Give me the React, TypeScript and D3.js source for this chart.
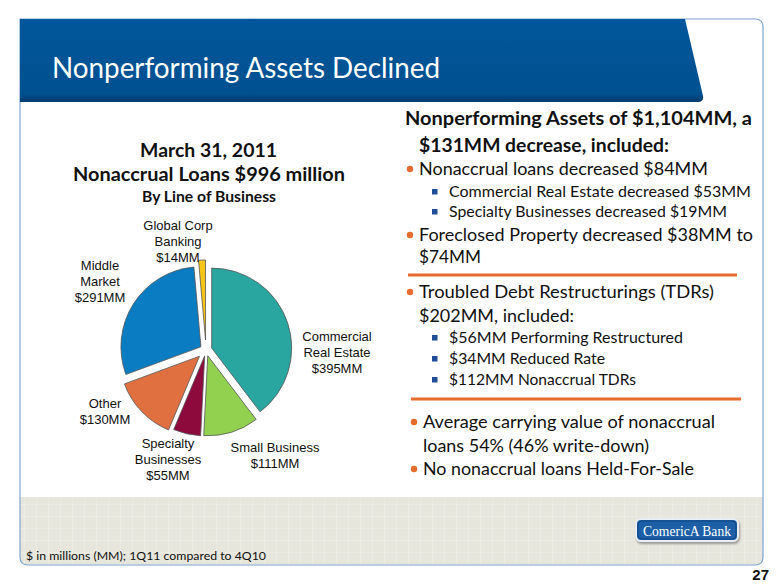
import React from "react";
import * as d3 from "d3";

const categories = ["Commercial Real Estate", "Small Business", "Specialty Businesses", "Other", "Middle Market", "Global Corp Banking"];
const values = [395, 111, 55, 130, 291, 14];
const colors = ["#2aa6a1", "#92d050", "#8c0a3c", "#e07040", "#0a7cc1", "#f5c518"];
const explode = [6, 6, 6, 9, 6, 10];
const labelLines = [
  ["Commercial", "Real Estate", "$395MM"],
  ["Small Business", "$111MM"],
  ["Specialty", "Businesses", "$55MM"],
  ["Other", "$130MM"],
  ["Middle", "Market", "$291MM"],
  ["Global Corp", "Banking", "$14MM"],
];
const labelPos = [
  [337, 341],
  [275, 452],
  [168, 448],
  [105, 408],
  [100, 270],
  [178, 230],
];

const W = 780, H = 585;
const cx = 206, cy = 350, R = 80;

export default function App() {
  const pie = d3.pie<number>().sort(null).startAngle(0).endAngle(2 * Math.PI)(values);
  const arc = d3.arc<d3.PieArcDatum<number>>().innerRadius(0).outerRadius(R);
  const font = "Lato, 'Open Sans', sans-serif";
  const dark = "#111";
  const orange = "#e46c2e";
  const sq = "#1f4e96";

  const bullet = (x: number, y: number) => <circle cx={x} cy={y - 6} r={3.2} fill={orange} />;
  const square = (x: number, y: number) => <rect x={x - 3} y={y - 8} width={5.5} height={5.5} fill={sq} />;

  const hdrPath = `M20,19 L685,19 L703,96 Q704,102 698,102 L20,102 Z`;

  return (
    <svg width={W} height={H} style={{ position: "absolute", left: 0, top: 0, background: "#fff" }}>
      <defs>
        <pattern id="grid" width="12" height="12" patternUnits="userSpaceOnUse">
          <rect width="12" height="12" fill="#e6e6dc" />
          <path d="M12,0 L0,0 0,12" fill="none" stroke="#f1f1ea" strokeWidth="1" />
        </pattern>
        <linearGradient id="hdr" x1="0" y1="0" x2="0" y2="1">
          <stop offset="0" stopColor="#01579b" />
          <stop offset="0.9" stopColor="#00508f" />
          <stop offset="1" stopColor="#003a6e" />
        </linearGradient>
        <filter id="sh" x="-10%" y="-10%" width="130%" height="150%">
          <feDropShadow dx="1" dy="2" stdDeviation="1.2" floodColor="#666" floodOpacity="0.6" />
        </filter>
      </defs>
      {/* frame */}
      <path d="M20,497 L763,497 L763,557 Q763,565 755,565 L28,565 Q20,565 20,557 Z" fill="url(#grid)" />
      <path d="M20,19 L755,19 Q763,19 763,27 L763,557 Q763,565 755,565 L28,565 Q20,565 20,557 Z" fill="none" stroke="#7fa6cf" strokeWidth={1.2} />
      <path d={hdrPath} fill="url(#hdr)" />
      <text x={52} y={78} fill="#fff" fontFamily={font} fontSize={28} textLength={388} lengthAdjust="spacingAndGlyphs">Nonperforming Assets Declined</text>

      {/* pie titles */}
      <g fontFamily={font} fontWeight="bold" fill={dark}>
        <text x={140} y={157} fontSize={19} textLength={137} lengthAdjust="spacingAndGlyphs">March 31, 2011</text>
        <text x={73} y={181} fontSize={19} textLength={272} lengthAdjust="spacingAndGlyphs">Nonaccrual Loans $996 million</text>
        <text x={142} y={202} fontSize={15} textLength={134} lengthAdjust="spacingAndGlyphs">By Line of Business</text>
      </g>

      {/* pie */}
      <g>
        {pie.map((d, i) => {
          const mid = (d.startAngle + d.endAngle) / 2;
          const dx = Math.sin(mid) * explode[i];
          const dy = -Math.cos(mid) * explode[i];
          return (
            <path key={categories[i]} d={arc(d) || ""} transform={`translate(${cx + dx},${cy + dy})`} fill={colors[i]} stroke="#555" strokeWidth={0.8} />
          );
        })}
      </g>
      <g fontFamily="'Liberation Sans', Arial, sans-serif" fontSize={13} fill={dark} textAnchor="middle">
        {labelLines.map((lines, i) => (
          <text key={i} x={labelPos[i][0]} y={labelPos[i][1]}>
            {lines.map((l, j) => (
              <tspan key={j} x={labelPos[i][0]} dy={j === 0 ? 0 : 16}>{l}</tspan>
            ))}
          </text>
        ))}
      </g>

      {/* right text */}
      <g fontFamily={font} fill={dark}>
        <text x={405} y={125} fontSize={19} fontWeight="bold" textLength={347} lengthAdjust="spacingAndGlyphs">Nonperforming Assets of $1,104MM, a</text>
        <text x={419} y={152} fontSize={19} fontWeight="bold" textLength={250} lengthAdjust="spacingAndGlyphs">$131MM decrease, included:</text>
        {bullet(410, 175)}
        <text x={419} y={175} fontSize={18} textLength={289} lengthAdjust="spacingAndGlyphs">Nonaccrual loans decreased $84MM</text>
        {square(435, 197)}
        <text x={449} y={197} fontSize={15} textLength={302} lengthAdjust="spacingAndGlyphs">Commercial Real Estate decreased $53MM</text>
        {square(435, 217)}
        <text x={449} y={217} fontSize={15} textLength={278} lengthAdjust="spacingAndGlyphs">Specialty Businesses decreased $19MM</text>
        {bullet(410, 241)}
        <text x={419} y={241} fontSize={18} textLength={334} lengthAdjust="spacingAndGlyphs">Foreclosed Property decreased $38MM to</text>
        <text x={419} y={263} fontSize={18} textLength={62} lengthAdjust="spacingAndGlyphs">$74MM</text>
        <line x1={408} x2={737} y1={275} y2={275} stroke={orange} strokeWidth={3} />
        {bullet(410, 298)}
        <text x={419} y={298} fontSize={18} textLength={295} lengthAdjust="spacingAndGlyphs">Troubled Debt Restructurings (TDRs)</text>
        <text x={419} y={322} fontSize={18} textLength={155} lengthAdjust="spacingAndGlyphs">$202MM, included:</text>
        {square(435, 343)}
        <text x={449} y={343} fontSize={15} textLength={234} lengthAdjust="spacingAndGlyphs">$56MM Performing Restructured</text>
        {square(435, 364)}
        <text x={449} y={364} fontSize={15} textLength={156} lengthAdjust="spacingAndGlyphs">$34MM Reduced Rate</text>
        {square(435, 385)}
        <text x={449} y={385} fontSize={15} textLength={187} lengthAdjust="spacingAndGlyphs">$112MM Nonaccrual TDRs</text>
        <line x1={411} x2={741} y1={399} y2={399} stroke={orange} strokeWidth={3} />
        {bullet(414, 428)}
        <text x={423} y={428} fontSize={18} textLength={292} lengthAdjust="spacingAndGlyphs">Average carrying value of nonaccrual</text>
        <text x={423} y={452} fontSize={18} textLength={226} lengthAdjust="spacingAndGlyphs">loans 54% (46% write-down)</text>
        {bullet(414, 475)}
        <text x={423} y={475} fontSize={18} textLength={271} lengthAdjust="spacingAndGlyphs">No nonaccrual loans Held-For-Sale</text>
      </g>

      {/* footer */}
      <text x={26} y={560} fontFamily={font} fontSize={12} fill={dark} textLength={240} lengthAdjust="spacingAndGlyphs">$ in millions (MM); 1Q11 compared to 4Q10</text>
      <rect x={636} y={519} width={102} height={22} rx={5} fill="#1b5ea6" stroke="#e8eef5" strokeWidth={2} filter="url(#sh)" />
      <rect x={638} y={521} width={98} height={18} rx={4} fill="none" stroke="#0d3f7a" strokeWidth={0.8} />
      <text x={687} y={535.5} textAnchor="middle" fontFamily="'Liberation Serif', serif" fontSize={15} fill="#fff" textLength={88} lengthAdjust="spacingAndGlyphs">ComericA Bank</text>
      <text x={769} y={580} textAnchor="end" fontFamily="'Liberation Sans Narrow', 'Liberation Sans', sans-serif" fontWeight="bold" fontSize={15} fill={dark}>27</text>
    </svg>
  );
}
